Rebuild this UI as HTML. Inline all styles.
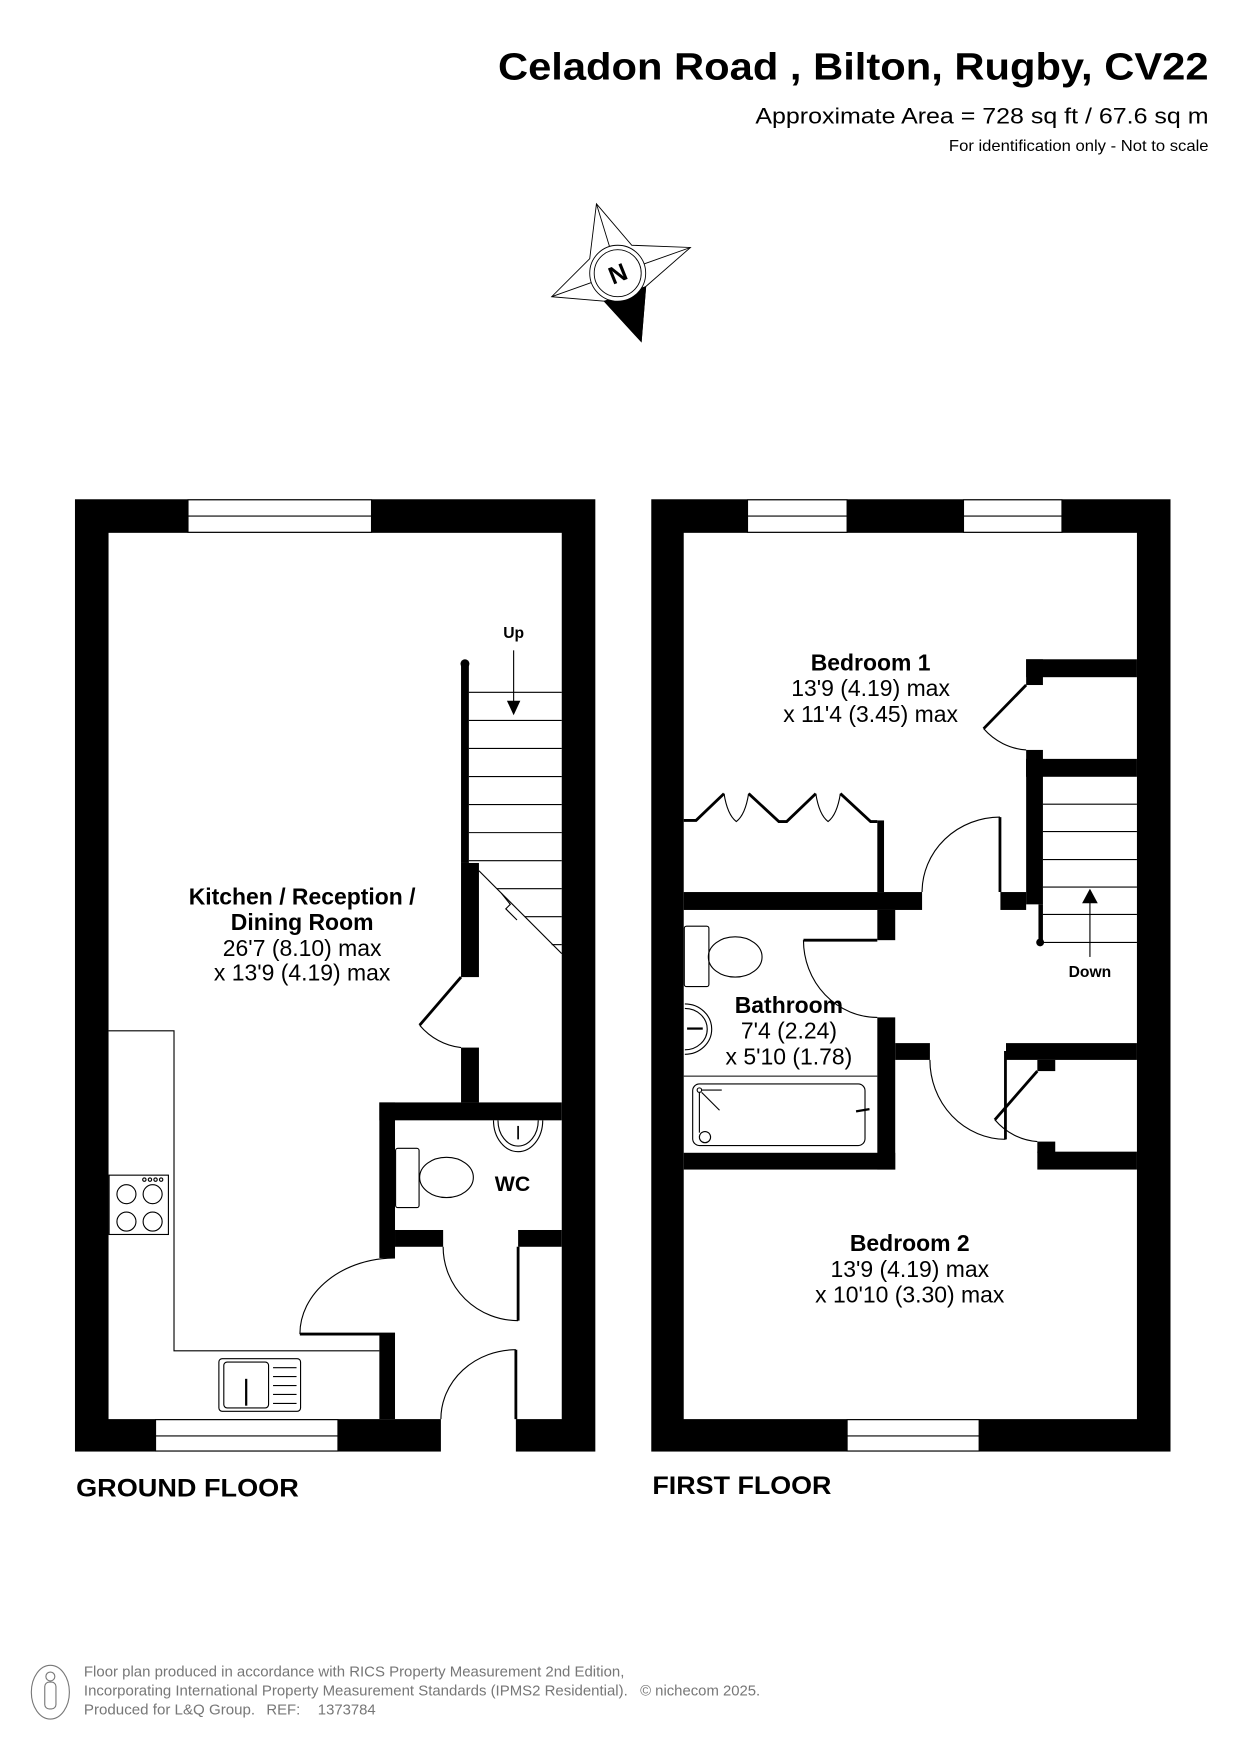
<!DOCTYPE html>
<html><head><meta charset="utf-8"><style>
html,body{margin:0;padding:0;background:#fff;}
svg{display:block;}
text{font-family:"Liberation Sans",Arial,sans-serif;}
</style></head><body>
<svg width="1241" height="1755" viewBox="0 0 1109 1568" xmlns="http://www.w3.org/2000/svg">
<rect x="0" y="0" width="1109" height="1568" fill="#fff"/>
<text x="1080" y="71" font-size="34" font-weight="bold" text-anchor="end" textLength="635" lengthAdjust="spacingAndGlyphs">Celadon Road , Bilton, Rugby, CV22</text>
<text x="1080" y="110" font-size="20" text-anchor="end" textLength="405" lengthAdjust="spacingAndGlyphs">Approximate Area = 728 sq ft / 67.6 sq m</text>
<text x="1080" y="135" font-size="14" text-anchor="end" textLength="232" lengthAdjust="spacingAndGlyphs">For identification only - Not to scale</text>

<g stroke="#000" stroke-width="0.8" fill="#fff">
<polygon points="533,182 564.6,219 617,221 577,256 573,305 540,269 493,265 527,231"/>
<polygon points="577,256 573,305 540,269" fill="#000"/>
<line x1="552" y1="244" x2="533" y2="182"/><line x1="552" y1="244" x2="617" y2="221"/><line x1="552" y1="244" x2="493" y2="265"/>
<circle cx="552" cy="244" r="25"/>
<circle cx="552" cy="244" r="21"/>
</g>
<text x="552" y="252" font-size="22" font-weight="bold" text-anchor="middle" transform="rotate(-22 552 244)">N</text>

<rect x="67" y="446" width="465" height="851" fill="#000"/>
<rect x="97" y="476" width="405" height="792" fill="#fff"/>
<g fill="#fff" stroke="#000" stroke-width="1">
<rect x="168" y="446.5" width="164" height="29"/><line x1="168" y1="461" x2="332" y2="461"/>
<rect x="139" y="1268.5" width="163" height="28"/><line x1="139" y1="1283" x2="302" y2="1283"/>
</g>
<rect x="394" y="1267" width="67" height="31" fill="#fff"/>
<g fill="#000">
<rect x="339" y="985" width="163" height="16"/>
<rect x="339" y="985" width="14" height="139"/>
<rect x="339" y="1191" width="14" height="77"/>
<rect x="353" y="1099" width="43" height="15"/>
<rect x="463" y="1099" width="39" height="15"/>
<rect x="412" y="771" width="16" height="102"/>
<rect x="412" y="936" width="16" height="49"/>
<rect x="412" y="593" width="7" height="178"/>
<circle cx="415.5" cy="593" r="4"/>
</g>
<g fill="none" stroke="#000" stroke-width="1">
<path d="M396,1114 A67,66 0 0 0 463,1180"/>
<path d="M394,1268 A67,62 0 0 1 461,1206"/>
<path d="M268,1192 A85,68 0 0 1 353,1124"/>
<path d="M375,916 A58,62 0 0 0 412,936"/>
</g>
<g stroke="#000" stroke-width="2.5">
<line x1="463" y1="1114" x2="463" y2="1180"/>
<line x1="461" y1="1206" x2="461" y2="1268"/>
<line x1="268" y1="1192" x2="353" y2="1192"/>
<line x1="412" y1="873" x2="375" y2="916"/>
</g>
<g stroke="#000" stroke-width="1" fill="none">
<line x1="419" y1="618.5" x2="502" y2="618.5"/>
<line x1="419" y1="643.6" x2="502" y2="643.6"/>
<line x1="419" y1="668.7" x2="502" y2="668.7"/>
<line x1="419" y1="693.8" x2="502" y2="693.8"/>
<line x1="419" y1="718.8" x2="502" y2="718.8"/>
<line x1="419" y1="743.9" x2="502" y2="743.9"/>
<line x1="419" y1="769" x2="502" y2="769"/>
<line x1="428" y1="778" x2="502" y2="852"/>
<line x1="444" y1="794" x2="502" y2="794"/>
<line x1="469" y1="819" x2="502" y2="819"/>
<line x1="493" y1="844" x2="502" y2="844"/>
<polyline points="448,798 456,808 452,812 462,822"/>
<line x1="459" y1="581" x2="459" y2="628"/>
</g>
<polygon points="453,626 465,626 459,639" fill="#000"/>
<text x="459" y="570" font-size="14" font-weight="bold" text-anchor="middle">Up</text>
<polyline points="97,921 155.5,921 155.5,1207 339,1207" fill="none" stroke="#000" stroke-width="1"/>
<g fill="none" stroke="#000" stroke-width="1">
<rect x="97.5" y="1050" width="53" height="53"/>
<circle cx="113" cy="1067" r="8.5"/><circle cx="136.4" cy="1067" r="8.5"/>
<circle cx="113" cy="1091.5" r="8.5"/><circle cx="136.4" cy="1091.5" r="8.5"/>
<circle cx="129" cy="1054" r="1.5"/><circle cx="134" cy="1054" r="1.5"/><circle cx="139" cy="1054" r="1.5"/><circle cx="144" cy="1054" r="1.5"/>
<rect x="195.6" y="1214" width="73" height="47" rx="3"/>
<rect x="200" y="1217" width="40" height="41" rx="3"/>
<line x1="244" y1="1222" x2="265" y2="1222"/><line x1="244" y1="1230" x2="265" y2="1230"/><line x1="244" y1="1238" x2="265" y2="1238"/><line x1="244" y1="1246" x2="265" y2="1246"/><line x1="244" y1="1254" x2="265" y2="1254"/>
</g>
<line x1="220" y1="1232" x2="220" y2="1256" stroke="#000" stroke-width="2"/>
<g fill="none" stroke="#000" stroke-width="1">
<rect x="353.5" y="1026" width="21" height="53" rx="2"/>
<ellipse cx="399" cy="1052" rx="24" ry="18"/>
<path d="M441,1001 A22,28 0 0 0 485,1001"/>
<path d="M445,1001 A18,23 0 0 0 481,1001"/>
</g>
<line x1="463" y1="1006" x2="463" y2="1018" stroke="#000" stroke-width="1.5"/>
<text x="458" y="1064" font-size="19" font-weight="bold" text-anchor="middle">WC</text>
<g font-size="20.5" text-anchor="middle">
<text x="270" y="808" font-weight="bold">Kitchen / Reception /</text>
<text x="270" y="831" font-weight="bold">Dining Room</text>
<text x="270" y="854">26'7 (8.10) max</text>
<text x="270" y="876">x 13'9 (4.19) max</text>
</g>
<text x="68" y="1337" font-size="22" font-weight="bold" textLength="199" lengthAdjust="spacingAndGlyphs">GROUND FLOOR</text>

<rect x="582" y="446" width="464" height="851" fill="#000"/>
<rect x="611" y="476" width="405" height="792" fill="#fff"/>
<g fill="#fff" stroke="#000" stroke-width="1">
<rect x="668" y="446.5" width="89" height="29"/><line x1="668" y1="461" x2="757" y2="461"/>
<rect x="861" y="446.5" width="88" height="29"/><line x1="861" y1="461" x2="949" y2="461"/>
<rect x="757" y="1268.5" width="118" height="28"/><line x1="757" y1="1283" x2="875" y2="1283"/>
</g>
<g fill="#000">
<rect x="917" y="589" width="99" height="16"/>
<rect x="917" y="589" width="15" height="23"/>
<rect x="917" y="670" width="15" height="24"/>
<rect x="917" y="678" width="99" height="16"/>
<rect x="917" y="678" width="15" height="130"/>
<rect x="928" y="808" width="4" height="34"/>
<circle cx="929.5" cy="842" r="3.5"/>
<rect x="894" y="797" width="23" height="16"/>
<rect x="611" y="797" width="213" height="16"/>
<rect x="784" y="733" width="6" height="64"/>
<rect x="784" y="813" width="16" height="27"/>
<rect x="784" y="909" width="16" height="136"/>
<rect x="800" y="932" width="31" height="15"/>
<rect x="611" y="1030" width="189" height="15"/>
<rect x="899" y="932" width="117" height="15"/>
<rect x="927" y="947" width="16" height="10"/>
<rect x="927" y="1020" width="16" height="10"/>
<rect x="927" y="1029" width="89" height="16"/>
</g>
<g fill="none" stroke="#000" stroke-width="1">
<path d="M879,651 A56,58 0 0 0 917,670"/>
<path d="M893.6,730 A70,67 0 0 0 824,797"/>
<path d="M718,840 A66,69 0 0 0 784,909"/>
<path d="M831,947 A68,71 0 0 0 898.5,1018"/>
<path d="M889,1000.5 A57,63 0 0 0 927,1020"/>
<line x1="932" y1="718.5" x2="1016" y2="718.5"/>
<line x1="932" y1="743" x2="1016" y2="743"/>
<line x1="932" y1="768" x2="1016" y2="768"/>
<line x1="932" y1="792.5" x2="1016" y2="792.5"/>
<line x1="932" y1="817" x2="1016" y2="817"/>
<line x1="932" y1="842" x2="1016" y2="842"/>
<line x1="974" y1="855" x2="974" y2="805"/>
<path d="M647,709 Q650,728 658,734 Q666,728 669,709"/>
<path d="M729,709 Q732,728 740,734 Q748,728 751,709"/>
</g>
<polygon points="974,794 967,807 981,807" fill="#000"/>
<g stroke="#000" stroke-width="2.5" fill="none">
<line x1="917" y1="612" x2="879" y2="651"/>
<line x1="893.6" y1="730" x2="893.6" y2="797"/>
<line x1="718" y1="840" x2="784" y2="840"/>
<line x1="898.5" y1="939" x2="898.5" y2="1018"/>
<line x1="927" y1="957" x2="889" y2="1000.5"/>
<polyline points="611,733 622,733 647,709"/>
<polyline points="669,709 696,734 703,734 729,709"/>
<polyline points="751,709 778,734 784,734"/>
</g>
<text x="974" y="873" font-size="14" font-weight="bold" text-anchor="middle">Down</text>
<g fill="none" stroke="#000" stroke-width="1">
<rect x="611.5" y="827.5" width="22" height="54" rx="2"/>
<ellipse cx="657" cy="855" rx="24" ry="18"/>
<path d="M612,897 A24,22.5 0 0 1 612,942"/>
<path d="M612,901 A20,18.5 0 0 1 612,938"/>
<line x1="611" y1="961.5" x2="784" y2="961.5"/>
<rect x="619" y="968.5" width="154" height="55" rx="6"/>
<circle cx="625" cy="974" r="2"/>
<line x1="627" y1="974" x2="645" y2="974"/>
<line x1="627" y1="976" x2="643" y2="992"/>
<line x1="625" y1="976" x2="625" y2="1012"/>
<circle cx="630" cy="1016" r="5"/>
</g>
<line x1="765" y1="993" x2="777" y2="991" stroke="#000" stroke-width="2"/>
<line x1="614" y1="919" x2="628" y2="919" stroke="#000" stroke-width="2"/>
<g font-size="20.5" text-anchor="middle">
<text x="778" y="599" font-weight="bold">Bedroom 1</text>
<text x="778" y="622">13'9 (4.19) max</text>
<text x="778" y="645">x 11'4 (3.45) max</text>
<text x="705" y="905" font-weight="bold">Bathroom</text>
<text x="705" y="928">7'4 (2.24)</text>
<text x="705" y="951">x 5'10 (1.78)</text>
<text x="813" y="1118" font-weight="bold">Bedroom 2</text>
<text x="813" y="1141">13'9 (4.19) max</text>
<text x="813" y="1164">x 10'10 (3.30) max</text>
</g>
<text x="583" y="1335" font-size="22" font-weight="bold" textLength="160" lengthAdjust="spacingAndGlyphs">FIRST FLOOR</text>

<g fill="none" stroke="#777" stroke-width="1">
<ellipse cx="45" cy="1512" rx="17" ry="24"/>
<circle cx="45" cy="1498" r="4"/>
<rect x="40" y="1503" width="10" height="24" rx="4"/>
</g>
<g font-size="13.3" fill="#777">
<text x="75" y="1498" textLength="483" lengthAdjust="spacingAndGlyphs">Floor plan produced in accordance with RICS Property Measurement 2nd Edition,</text>
<text x="75" y="1515" textLength="486" lengthAdjust="spacingAndGlyphs">Incorporating International Property Measurement Standards (IPMS2 Residential).</text>
<text x="572" y="1515">© nichecom 2025.</text>
<text x="75" y="1532" textLength="153" lengthAdjust="spacingAndGlyphs">Produced for L&amp;Q Group.</text>
<text x="238" y="1532">REF:</text>
<text x="284" y="1532">1373784</text>
</g>
</svg>
</body></html>
